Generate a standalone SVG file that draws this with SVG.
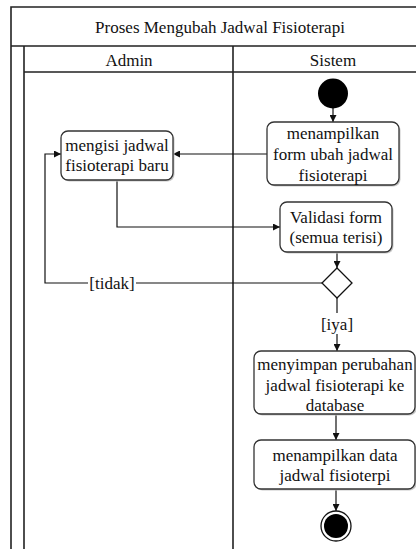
<svg xmlns="http://www.w3.org/2000/svg" width="416" height="549" viewBox="0 0 416 549">
<style>
text{font-family:"Liberation Serif","Times New Roman","DejaVu Serif",serif;font-size:17px;fill:#111;text-anchor:middle}
.frame{fill:none;stroke:#222;stroke-width:1.6}
.box{fill:#fff;stroke:#333;stroke-width:1.3}
.shadow{fill:#c8c8c8}
.edge{fill:none;stroke:#111;stroke-width:1.2}
</style>
<defs>
<marker id="arr" viewBox="0 0 8 8" refX="8" refY="4" markerWidth="7" markerHeight="7" markerUnits="userSpaceOnUse" orient="auto">
<path d="M0,0 L8,4 L0,8 z" fill="#111"/>
</marker>
</defs>
<rect width="416" height="549" fill="#fff"/>
<g id="frame">
<path class="frame" d="M11,549 V7 H430 M11,46 H430 M24,46 V549 M24,72 H430 M233,46 V549"/>
<text x="220" y="33">Proses Mengubah Jadwal Fisioterapi</text>
<text x="129" y="66">Admin</text>
<text x="333" y="66">Sistem</text>
</g>
<g id="connectors">
<path class="edge" d="M333,108 V122" marker-end="url(#arr)"/>
<path class="edge" d="M267,154 H173" marker-end="url(#arr)"/>
<path class="edge" d="M117,180 V227 H280" marker-end="url(#arr)"/>
<path class="edge" d="M337,252 V268" marker-end="url(#arr)"/>
<path class="edge" d="M322,283 H136 M88,283 H45 V154 H61" marker-end="url(#arr)"/>
<path class="edge" d="M337,298 V313"/>
<path class="edge" d="M337,334 V351" marker-end="url(#arr)"/>
<path class="edge" d="M336,414 V440" marker-end="url(#arr)"/>
<path class="edge" d="M336,489 V511" marker-end="url(#arr)"/>
<text x="112" y="289">[tidak]</text>
<text x="337" y="330">[iya]</text>
</g>
<g id="start"><circle cx="333" cy="93.5" r="15" fill="#000"/></g>
<g id="tampil-form">
<rect class="shadow" x="268.5" y="123.5" width="132" height="63" rx="7"/>
<rect class="box" x="267" y="122" width="132" height="63" rx="7"/>
<text x="333" y="139">menampilkan</text>
<text x="333" y="160">form ubah jadwal</text>
<text x="333" y="181">fisioterapi</text>
</g>
<g id="mengisi">
<rect class="shadow" x="62.5" y="132.5" width="112" height="49" rx="7"/>
<rect class="box" x="61" y="131" width="112" height="49" rx="7"/>
<text x="117" y="151">mengisi jadwal</text>
<text x="117" y="171">fisioterapi baru</text>
</g>
<g id="validasi">
<rect class="shadow" x="281.5" y="203.5" width="112" height="50" rx="7"/>
<rect class="box" x="280" y="202" width="112" height="50" rx="7"/>
<text x="336" y="223">Validasi form</text>
<text x="336" y="243">(semua terisi)</text>
</g>
<g id="decision"><path d="M337,268 L352,283 L337,298 L322,283 Z" fill="#fff" stroke="#111" stroke-width="1.3"/></g>
<g id="menyimpan">
<rect class="shadow" x="255.5" y="352.5" width="161" height="63" rx="7"/>
<rect class="box" x="254" y="351" width="161" height="63" rx="7"/>
<text x="335" y="370">menyimpan perubahan</text>
<text x="335" y="391">jadwal fisioterapi ke</text>
<text x="335" y="411">database</text>
</g>
<g id="tampil-data">
<rect class="shadow" x="255.5" y="441.5" width="161" height="49" rx="7"/>
<rect class="box" x="254" y="440" width="161" height="49" rx="7"/>
<text x="335" y="461">menampilkan data</text>
<text x="335" y="481">jadwal fisioterpi</text>
</g>
<g id="end">
<circle cx="336" cy="526" r="15" fill="#fff" stroke="#111" stroke-width="1.3"/>
<circle cx="336" cy="526" r="12" fill="#000"/>
</g>
</svg>
